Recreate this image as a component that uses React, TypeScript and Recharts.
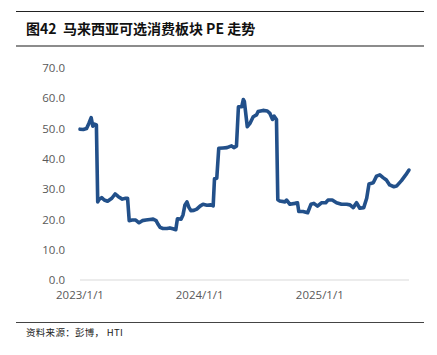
import { LineChart, Line, XAxis, YAxis } from "recharts";

// 马来西亚可选消费板块 PE，读自原图
const dates = [
  "2023-01-01", "2023-01-11", "2023-01-21", "2023-01-28", "2023-02-04", "2023-02-09",
  "2023-02-14", "2023-02-20", "2023-02-24", "2023-02-28", "2023-03-08", "2023-03-16",
  "2023-03-26", "2023-04-08", "2023-04-18", "2023-04-28", "2023-05-10", "2023-05-20",
  "2023-05-26", "2023-05-31", "2023-06-09", "2023-06-20", "2023-06-30", "2023-07-10",
  "2023-07-21", "2023-08-02", "2023-08-12", "2023-08-21", "2023-08-27", "2023-09-02",
  "2023-09-11", "2023-09-23", "2023-10-02", "2023-10-11", "2023-10-20", "2023-10-25",
  "2023-11-05", "2023-11-11", "2023-11-17", "2023-11-23", "2023-11-29", "2023-12-05",
  "2023-12-14", "2023-12-23", "2024-01-02", "2024-01-11", "2024-01-23", "2024-02-04",
  "2024-02-11", "2024-02-15", "2024-02-22", "2024-02-28", "2024-03-12", "2024-03-24",
  "2024-04-07", "2024-04-14", "2024-04-22", "2024-04-28", "2024-05-08", "2024-05-13",
  "2024-05-16", "2024-05-25", "2024-06-02", "2024-06-12", "2024-06-22", "2024-06-27",
  "2024-07-12", "2024-07-25", "2024-08-02", "2024-08-10", "2024-08-15", "2024-08-22",
  "2024-08-26", "2024-09-01", "2024-09-17", "2024-09-22", "2024-10-02", "2024-10-17",
  "2024-10-25", "2024-10-29", "2024-11-11", "2024-11-25", "2024-12-05", "2024-12-14",
  "2024-12-25", "2025-01-06", "2025-01-19", "2025-01-26", "2025-02-08", "2025-02-21",
  "2025-03-08", "2025-03-24", "2025-04-03", "2025-04-13", "2025-04-23", "2025-05-03",
  "2025-05-15", "2025-05-24", "2025-05-31", "2025-06-13", "2025-06-23", "2025-07-03",
  "2025-07-13", "2025-07-23", "2025-08-02", "2025-08-15", "2025-08-23", "2025-09-07",
  "2025-09-20", "2025-09-30",
];

const pe = [
  49.8, 49.7, 50.0, 51.7, 53.6, 50.8,
  51.5, 51.2, 25.8, 26.6, 27.2, 26.4,
  26.0, 27.0, 28.4, 27.5, 26.7, 27.0,
  27.0, 19.6, 19.8, 19.8, 18.9, 19.6,
  19.8, 20.0, 20.1, 19.6, 18.4, 17.4,
  17.0, 17.0, 17.2, 16.9, 16.6, 20.2,
  20.1, 21.5, 24.8, 25.8, 24.0, 22.9,
  23.0, 23.4, 24.4, 25.0, 24.7, 24.8,
  24.5, 33.4, 33.6, 43.5, 43.6, 43.7,
  44.3, 43.7, 44.2, 57.2, 57.2, 59.6,
  59.0, 50.6, 51.7, 53.9, 54.5, 55.6,
  56.0, 55.8, 55.0, 53.0, 54.1, 53.0,
  26.5, 26.1, 25.8, 26.4, 25.0, 25.3,
  25.5, 22.6, 22.6, 22.2, 25.0, 25.3,
  24.4, 25.5, 25.5, 26.4, 26.4, 25.5,
  25.0, 25.0, 24.8, 23.9, 25.5, 23.7,
  23.9, 27.0, 31.7, 32.1, 34.3, 34.7,
  33.8, 33.0, 31.4, 30.8, 31.0, 32.8,
  34.7, 36.3,
];

const xTicks = ["2023-01-01", "2024-01-01", "2025-01-01"];
const yTicks = [0, 10, 20, 30, 40, 50, 60, 70];

const toTime = (d: string) => new Date(d + "T00:00:00Z").getTime();

const data = dates.map((d, i) => ({ t: toTime(d), pe: pe[i] }));

const fmtDate = (v: number) => {
  const d = new Date(v);
  return `${d.getUTCFullYear()}/${d.getUTCMonth() + 1}/${d.getUTCDate()}`;
};

const font = '"Open Sans", "Liberation Sans", sans-serif';
const cjk = '"Noto Sans CJK SC", sans-serif';

export default function App() {
  return (
    <div
      style={{
        position: "absolute",
        left: 0,
        top: 0,
        width: 437,
        height: 355,
        background: "#fff",
        overflow: "hidden",
      }}
    >
      <div style={{ position: "absolute", left: 16, top: 11, width: 408, height: 1, background: "#222" }} />
      <div
        style={{
          position: "absolute",
          left: 26,
          top: 18,
          fontFamily: cjk,
          fontWeight: 700,
          fontSize: 14,
          lineHeight: "20px",
          color: "#111",
          whiteSpace: "pre",
        }}
      >
        图42  马来西亚可选消费板块 PE 走势
      </div>
      <div style={{ position: "absolute", left: 16, top: 45, width: 408, height: 2, background: "#8c8c8c" }} />

      <div style={{ position: "absolute", left: 0, top: 0 }}>
        <LineChart
          width={437}
          height={355}
          data={data}
          margin={{ top: 68, right: 28, bottom: 45, left: 0 }}
        >
          <XAxis
            dataKey="t"
            type="number"
            scale="time"
            domain={[toTime("2023-01-01"), toTime("2025-09-30")]}
            ticks={xTicks.map(toTime)}
            tickFormatter={fmtDate}
            axisLine={{ stroke: "#d9d9d9", strokeWidth: 1 }}
            tickLine={false}
            tickMargin={5}
            tick={{ fontSize: 11.5, fill: "#595959", fontFamily: font }}
            height={30}
            interval={0}
          />
          <YAxis
            domain={[0, 70]}
            ticks={yTicks}
            tickFormatter={(v: number) => v.toFixed(1)}
            axisLine={false}
            tickLine={false}
            width={80}
            tickMargin={9}
            tick={{ fontSize: 11.5, fill: "#595959", fontFamily: font }}
            interval={0}
          />
          <Line
            type="linear"
            dataKey="pe"
            stroke="#22508a"
            strokeWidth={3.6}
            strokeLinejoin="round"
            strokeLinecap="round"
            dot={false}
            isAnimationActive={false}
          />
        </LineChart>
      </div>

      <div style={{ position: "absolute", left: 16, top: 322, width: 408, height: 1, background: "#444" }} />
      <div
        style={{
          position: "absolute",
          left: 26,
          top: 325,
          fontFamily: cjk,
          fontSize: 9.5,
          lineHeight: "14px",
          letterSpacing: 0.3,
          color: "#222",
          whiteSpace: "pre",
        }}
      >
        资料来源：彭博， HTI
      </div>
    </div>
  );
}
